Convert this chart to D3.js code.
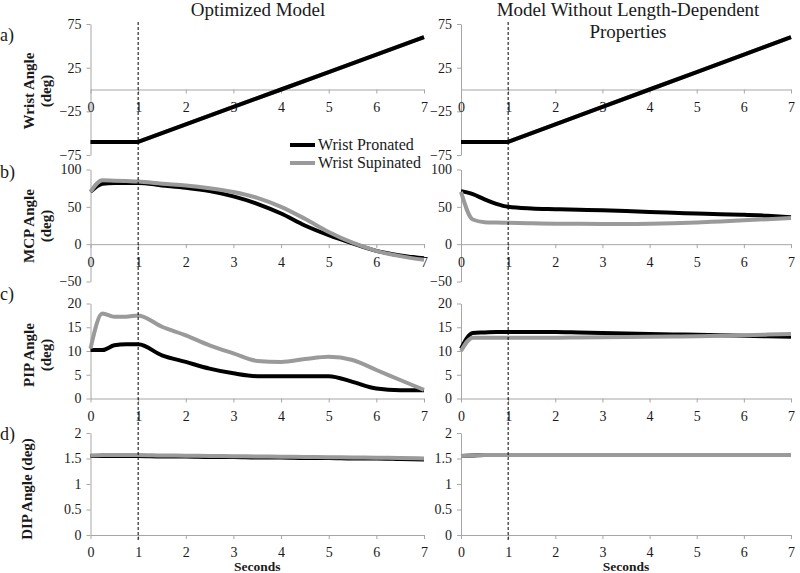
<!DOCTYPE html>
<html>
<head>
<meta charset="utf-8">
<script src="https://cdn.jsdelivr.net/npm/d3@7"></script>
<style>
  html, body { margin: 0; padding: 0; background: #fff; }
  svg { display: block; }
  svg text { font-family: "Liberation Serif", "Times New Roman", serif; }
</style>
</head>
<body>
<svg id="chart" width="800" height="573"></svg>
<script>
// ---------------- DATA ----------------
const columnTitles = [["Optimized Model"], ["Model Without Length-Dependent", "Properties"]];
const panelLetters = ["a)", "b)", "c)", "d)"];
const panelLabels = [["Wrist Angle", "(deg)"], ["MCP Angle", "(deg)"], ["PIP Angle", "(deg)"], ["DIP Angle (deg)"]];
const seriesNames = ["Wrist Pronated", "Wrist Supinated"];
const xTickValues = [0, 1, 2, 3, 4, 5, 6, 7];
const xTitle = "Seconds";
const markerTime = 1;

const wristTicks = [-75, -25, 25, 75];
const mcpTicks = [-50, 0, 50, 100];
const pipTicks = [0, 5, 10, 15, 20];
const dipTicks = [0, 0.5, 1, 1.5, 2];

// wrist angle (prescribed) sample times
const tWrist = [0, 1, 2, 3, 4, 5, 6, 7];
// joint angle sample times
const tJoint = [0, 0.25, 0.5, 0.75, 1, 1.5, 2, 2.5, 3, 3.5, 4, 4.5, 5, 5.5, 6, 6.5, 7];

// Optimized model
const optWristPronated  = [-60, -60, -40, -20, 0, 20, 40, 60];
const optWristSupinated = [-60, -60, -40, -20, 0, 20, 40, 60];
const optMcpPronated  = [70, 81, 82, 82, 82, 78.7, 75.5, 71, 64, 54, 41, 25, 12, 1, -9, -15, -19];
const optMcpSupinated = [70, 85.5, 85, 84.5, 84, 81, 78.7, 75, 69.8, 62, 50, 34, 16.4, 2, -9, -16, -21];
const optPipPronated  = [10.2, 10.2, 11.2, 11.4, 11.4, 9.1, 7.7, 6.3, 5.3, 4.7, 4.7, 4.7, 4.7, 3.5, 2.1, 1.75, 1.75];
const optPipSupinated = [10.5, 17.9, 17.2, 17.2, 17.5, 15.1, 13.3, 11.2, 9.5, 7.9, 7.7, 8.3, 8.8, 8.1, 6.0, 3.9, 1.8];
const optDipPronated  = [1.55, 1.55, 1.55, 1.55, 1.55, 1.54, 1.54, 1.53, 1.53, 1.52, 1.52, 1.51, 1.51, 1.50, 1.50, 1.49, 1.48];
const optDipSupinated = [1.56, 1.57, 1.57, 1.57, 1.57, 1.56, 1.555, 1.55, 1.545, 1.54, 1.535, 1.53, 1.525, 1.52, 1.515, 1.51, 1.50];

// Model without length-dependent properties
const nldWristPronated  = [-60, -60, -40, -20, 0, 20, 40, 60];
const nldWristSupinated = [-60, -60, -40, -20, 0, 20, 40, 60];
const nldMcpPronated  = [71, 67, 60, 54, 50, 47.7, 46.8, 46, 45.5, 44.5, 43, 42, 41, 40, 39.5, 38, 36];
const nldMcpSupinated = [70, 33, 29.5, 29, 28.6, 28, 27.5, 27.2, 27, 27, 27.3, 28, 29, 30.5, 32, 33.5, 35];
const nldPipPronated  = [10.5, 13.8, 13.9, 14, 14, 14, 14, 13.9, 13.8, 13.7, 13.6, 13.5, 13.4, 13.3, 13.2, 13.1, 13];
const nldPipSupinated = [10, 12.8, 12.8, 12.8, 12.8, 12.8, 12.8, 12.85, 12.9, 12.95, 13.0, 13.05, 13.1, 13.2, 13.3, 13.45, 13.6];
const nldDipPronated  = [1.55, 1.56, 1.57, 1.57, 1.57, 1.57, 1.57, 1.57, 1.57, 1.57, 1.57, 1.57, 1.57, 1.57, 1.57, 1.57, 1.57];
const nldDipSupinated = [1.55, 1.56, 1.57, 1.57, 1.57, 1.57, 1.57, 1.57, 1.57, 1.57, 1.57, 1.57, 1.57, 1.57, 1.57, 1.57, 1.57];

// ---------------- LAYOUT ----------------
const FONT = "'Liberation Serif', 'Times New Roman', serif";
const svg = d3.select("#chart");
const columns = [
  { x0: 90.5, x1: 424, titleX: 258 },
  { x0: 461, x1: 791, titleX: 628 }
];
const rows = [
  { domain: [-75, 75], range: [155, 24], ticks: wristTicks, t: tWrist, labelY: 91, letterY: 41, curve: d3.curveLinear, blackOnTop: true },
  { domain: [-50, 100], range: [281.5, 169.5], ticks: mcpTicks, t: tJoint, labelY: 226, letterY: 178, curve: d3.curveMonotoneX },
  { domain: [0, 20], range: [398.5, 303.5], ticks: pipTicks, t: tJoint, labelY: 355, letterY: 300, curve: d3.curveMonotoneX },
  { domain: [0, 2], range: [535, 433], ticks: dipTicks, t: tJoint, labelY: 489, letterY: 440, curve: d3.curveMonotoneX }
];
const seriesData = [
  [[optWristPronated, optWristSupinated], [nldWristPronated, nldWristSupinated]],
  [[optMcpPronated, optMcpSupinated], [nldMcpPronated, nldMcpSupinated]],
  [[optPipPronated, optPipSupinated], [nldPipPronated, nldPipSupinated]],
  [[optDipPronated, optDipSupinated], [nldDipPronated, nldDipSupinated]]
];
const seriesColors = ["#000000", "#9a9a9a"];
const axisColor = "#a6a6a6";
const textColor = "#1a1a1a";

function txt(sel) { return sel.style("font-family", FONT).attr("fill", textColor); }

// ---------------- TITLES ----------------
columns.forEach((c, ci) => {
  columnTitles[ci].forEach((line, li) => {
    txt(svg.append("text"))
      .attr("x", c.titleX).attr("y", 16 + li * 22)
      .attr("text-anchor", "middle")
      .attr("font-size", 19)
      .text(line);
  });
});

// ---------------- PANELS ----------------
rows.forEach((r, ri) => {
  txt(svg.append("text")).attr("x", 0).attr("y", r.letterY)
    .attr("font-size", 18).text(panelLetters[ri]);
  const lab = panelLabels[ri];
  const g = svg.append("g").attr("transform", `translate(${lab.length === 1 ? 32 : 34},${r.labelY}) rotate(-90)`);
  lab.forEach((line, li) => {
    txt(g.append("text")).attr("x", 0).attr("y", li * 17)
      .attr("text-anchor", "middle").attr("font-size", 15).attr("font-weight", "bold")
      .text(line);
  });

  columns.forEach((c, ci) => {
    const x = d3.scaleLinear().domain([0, 7]).range([c.x0, c.x1]);
    const y = d3.scaleLinear().domain(r.domain).range(r.range);

    const yAxis = svg.append("g").attr("transform", `translate(${c.x0},0)`)
      .call(d3.axisLeft(y).tickValues(r.ticks).tickSize(4).tickSizeOuter(0).tickPadding(5).tickFormat(d3.format("")));
    const xAxis = svg.append("g").attr("transform", `translate(0,${y(0)})`)
      .call(d3.axisBottom(x).tickValues(xTickValues).tickSize(4).tickSizeOuter(0).tickPadding(ri === 3 ? 8 : 9).tickFormat(d3.format("d")));

    [yAxis, xAxis].forEach(a => {
      a.attr("font-family", null);
      a.select(".domain").attr("stroke", axisColor).attr("stroke-width", 1);
      a.selectAll(".tick line").attr("stroke", axisColor);
      a.selectAll(".tick text").attr("fill", textColor).attr("font-size", 14)
        .style("font-family", FONT);
    });

    const line = d3.line().x((d, i) => x(r.t[i])).y(d => y(d)).curve(r.curve);
    const order = r.blackOnTop ? [1, 0] : [0, 1];
    order.forEach(si => {
      svg.append("path").datum(seriesData[ri][ci][si])
        .attr("d", line).attr("fill", "none")
        .attr("stroke", seriesColors[si]).attr("stroke-width", 4)
        .attr("stroke-linejoin", "round");
    });
  });
});

// ---------------- DASHED MARKER & X TITLES ----------------
columns.forEach(c => {
  const x = d3.scaleLinear().domain([0, 7]).range([c.x0, c.x1]);
  svg.append("line")
    .attr("x1", x(markerTime)).attr("x2", x(markerTime))
    .attr("y1", 22).attr("y2", 540)
    .attr("stroke", "#000").attr("stroke-width", 1).attr("stroke-dasharray", "3,2");
  txt(svg.append("text")).attr("x", (c.x0 + c.x1) / 2).attr("y", 571)
    .attr("text-anchor", "middle").attr("font-size", 13.5).attr("font-weight", "bold")
    .text(xTitle);
});

// ---------------- LEGEND ----------------
seriesNames.forEach((name, i) => {
  const ly = 145 + i * 18;
  svg.append("line").attr("x1", 290).attr("x2", 315).attr("y1", ly).attr("y2", ly)
    .attr("stroke", seriesColors[i]).attr("stroke-width", 4);
  txt(svg.append("text")).attr("x", 318).attr("y", ly + 5)
    .attr("font-size", 16).text(name);
});
</script>
</body>
</html>
